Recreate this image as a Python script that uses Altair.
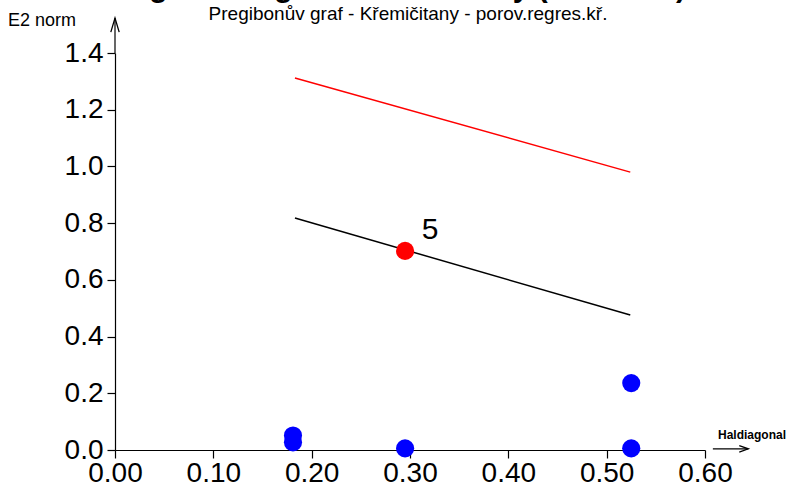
import altair as alt
import pandas as pd

# ---- data ----
blue_x = [0.181, 0.181, 0.295, 0.525, 0.525]
blue_y = [0.051, 0.027, 0.006, 0.236, 0.006]

red_x = [0.295]
red_y = [0.702]
red_label = ["5"]

upper_x = [0.183, 0.524]
upper_y = [1.312, 0.980]

lower_x = [0.183, 0.524]
lower_y = [0.818, 0.476]

x_ticks = [0.0, 0.1, 0.2, 0.3, 0.4, 0.5, 0.6]
y_ticks = [0.0, 0.2, 0.4, 0.6, 0.8, 1.0, 1.2, 1.4]

title_text = "Pregibonův graf - Křemičitany (E2 norm.)"
subtitle_text = "Pregibonův graf - Křemičitany - porov.regres.kř."
y_title = "E2 norm"
x_title = "Haldiagonal"

FONT = "Liberation Sans"

xs = alt.Scale(domain=[0, 0.6], nice=False, zero=False)
ys = alt.Scale(domain=[0, 1.4], nice=False, zero=False)

x_axis = alt.Axis(values=x_ticks, format=".2f", title=None, grid=False,
                  labelFontSize=28, labelFont=FONT, labelColor="black",
                  tickColor="black", domainColor="black", tickSize=8,
                  labelPadding=1, labelFlush=False, labelOverlap=False,
                  domainWidth=1.2, tickWidth=1.2)
y_axis = alt.Axis(values=y_ticks, format=".1f", title=None, grid=False,
                  labelFontSize=28, labelFont=FONT, labelColor="black",
                  tickColor="black", domainColor="black", tickSize=8,
                  labelPadding=4, labelOverlap=False,
                  domainWidth=1.2, tickWidth=1.2)

blue_df = pd.DataFrame({"x": blue_x, "y": blue_y})
red_df = pd.DataFrame({"x": red_x, "y": red_y, "label": red_label})
upper_df = pd.DataFrame({"x": upper_x, "y": upper_y})
lower_df = pd.DataFrame({"x": lower_x, "y": lower_y})

base_axes = alt.Chart(pd.DataFrame({"x": [0.0], "y": [0.0]})).mark_point(opacity=0).encode(
    x=alt.X("x:Q", scale=xs, axis=x_axis),
    y=alt.Y("y:Q", scale=ys, axis=y_axis),
)

upper_line = alt.Chart(upper_df).mark_line(color="#FF0000", strokeWidth=1.5, clip=False).encode(
    x=alt.X("x:Q", scale=xs), y=alt.Y("y:Q", scale=ys))
lower_line = alt.Chart(lower_df).mark_line(color="black", strokeWidth=1.5, clip=False).encode(
    x=alt.X("x:Q", scale=xs), y=alt.Y("y:Q", scale=ys))

blue_pts = alt.Chart(blue_df).mark_circle(color="#0000FF", size=330, opacity=1, clip=False).encode(
    x=alt.X("x:Q", scale=xs), y=alt.Y("y:Q", scale=ys))
red_pts = alt.Chart(red_df).mark_circle(color="#FF0000", size=330, opacity=1, clip=False).encode(
    x=alt.X("x:Q", scale=xs), y=alt.Y("y:Q", scale=ys))
red_text = alt.Chart(red_df).mark_text(font=FONT, fontSize=30, dx=25, dy=-21,
                                       align="center", baseline="middle", color="black").encode(
    x=alt.X("x:Q", scale=xs), y=alt.Y("y:Q", scale=ys), text="label:N")

# axis extensions with arrow heads
yarrow_df = pd.DataFrame({"x": [0.0], "y0": [1.4], "y1": [1.523]})
y_ext = alt.Chart(yarrow_df).mark_rule(color="black", strokeWidth=1.2, clip=False).encode(
    x=alt.X("x:Q", scale=xs), y=alt.Y("y0:Q", scale=ys), y2="y1:Q")
y_head = alt.Chart(yarrow_df).mark_point(shape="M-0.3,1L0,0L0.3,1", size=784, filled=False,
                                         color="black", strokeWidth=1.3, opacity=1, clip=False).encode(
    x=alt.X("x:Q", scale=xs), y=alt.Y("y1:Q", scale=ys))

xarrow_df = pd.DataFrame({"x0": [0.608], "x1": [0.644], "y": [0.004]})
x_ext = alt.Chart(xarrow_df).mark_rule(color="black", strokeWidth=1.2, clip=False).encode(
    x=alt.X("x0:Q", scale=xs), x2="x1:Q", y=alt.Y("y:Q", scale=ys))
x_head = alt.Chart(xarrow_df).mark_point(shape="M-1,-0.35L0,0L-1,0.35", size=324, filled=False,
                                         color="black", strokeWidth=1.3, opacity=1, clip=False).encode(
    x=alt.X("x1:Q", scale=xs), y=alt.Y("y:Q", scale=ys))

one = pd.DataFrame({"t": [0]})
title_mark = alt.Chart(one).mark_text(text=title_text, font=FONT, fontWeight="bold", fontSize=30,
                                      align="left", baseline="alphabetic", color="black").encode(
    x=alt.value(-14), y=alt.value(-56))
subtitle_mark = alt.Chart(one).mark_text(text=subtitle_text, font=FONT, fontSize=19,
                                         align="center", baseline="alphabetic", color="black").encode(
    x=alt.value(293), y=alt.value(-33))
ytitle_mark = alt.Chart(one).mark_text(text=y_title, font=FONT, fontSize=18,
                                       align="left", baseline="alphabetic", color="black").encode(
    x=alt.value(-107), y=alt.value(-27))
xtitle_mark = alt.Chart(one).mark_text(text=x_title, font=FONT, fontWeight="bold", fontSize=12,
                                       align="left", baseline="alphabetic", color="black").encode(
    x=alt.value(603), y=alt.value(-11 + 397))

chart = alt.layer(
    base_axes, upper_line, lower_line, blue_pts, red_pts, red_text,
    y_ext, y_head, x_ext, x_head,
    title_mark, subtitle_mark, ytitle_mark, xtitle_mark,
).properties(
    width=590, height=397,
    padding={"left": 115, "top": 53, "right": 90, "bottom": 40},
    autosize=alt.AutoSizeParams(type="none"),
    background="white",
).configure_view(stroke=None)

chart.save("out.html", embed_options={"renderer": "svg", "actions": False})
